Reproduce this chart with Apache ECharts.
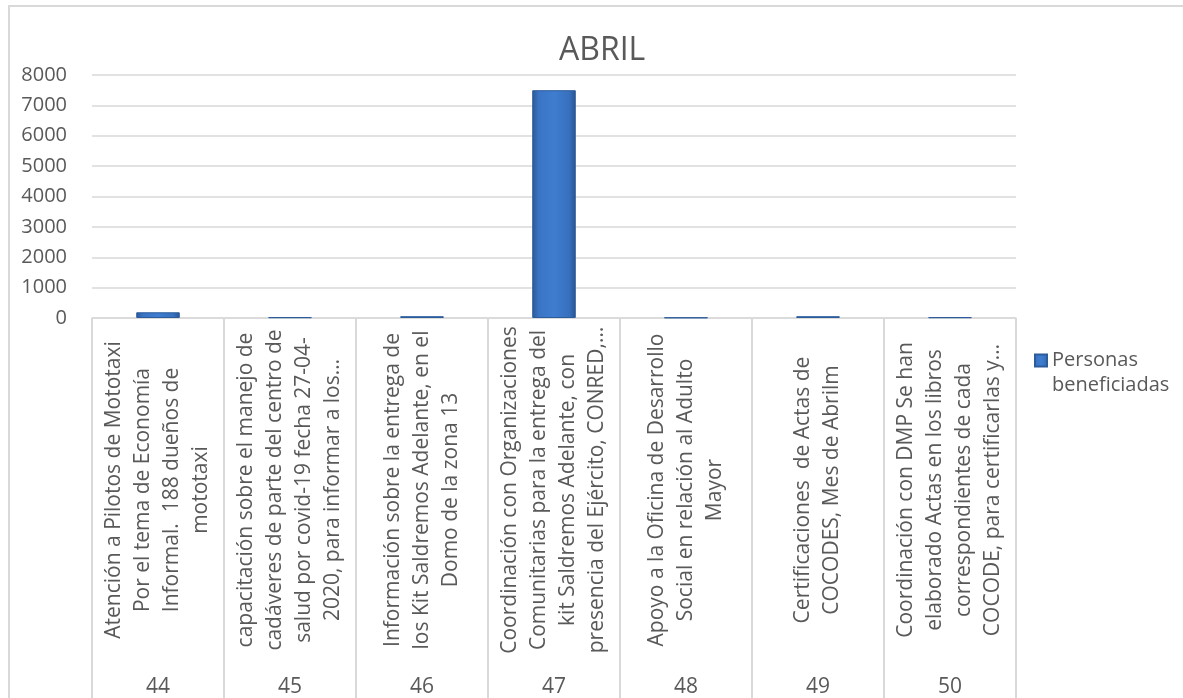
<!DOCTYPE html>
<html>
<head>
<meta charset="utf-8">
<script src="https://cdn.jsdelivr.net/npm/echarts@6/dist/echarts.min.js"></script>
<style>
html,body{margin:0;padding:0;background:#fff;}
#chart{width:1183px;height:698px;}
</style>
</head>
<body>
<div id="chart"></div>
<script>
var titleText = 'ABRIL';
var seriesName = 'Personas\nbeneficiadas';
var groupLabels = ['44', '45', '46', '47', '48', '49', '50'];
var categories = [
  'Atención a Pilotos de Mototaxi\nPor el tema de Economía\nInformal.  188 dueños de\nmototaxi',
  'capacitación sobre el manejo de\ncadáveres de parte del centro de\nsalud por covid-19 fecha 27-04-\n2020, para informar a los…',
  'Información sobre la entrega de\nlos Kit Saldremos Adelante, en el\nDomo de la zona 13',
  'Coordinación con Organizaciones\nComunitarias para la entrega del\nkit Saldremos Adelante, con\npresencia del Ejército, CONRED,…',
  'Apoyo a la Oficina de Desarrollo\nSocial en relación al Adulto\nMayor',
  'Certificaciones  de Actas de\nCOCODES, Mes de Abrilm',
  'Coordinación con DMP Se han\nelaborado Actas en los libros\ncorrespondientes de cada\nCOCODE, para certificarlas y…'
];
var values = [188, 25, 60, 7500, 15, 60, 25];
var yTicks = [0, 1000, 2000, 3000, 4000, 5000, 6000, 7000, 8000];

var FONT = '"Open Sans", sans-serif';
var TXT = '#595959';
var chart = echarts.init(document.getElementById('chart'));
chart.setOption({
  backgroundColor: '#ffffff',
  animation: false,
  title: {
    text: titleText,
    left: 554,
    top: 30,
    textStyle: {fontFamily: FONT, fontSize: 32, fontWeight: 'normal', color: TXT}
  },
  graphic: [{
    type: 'rect',
    shape: {x: 9, y: 6, width: 1200, height: 720},
    style: {fill: 'none', stroke: '#d9d9d9', lineWidth: 2},
    silent: true,
    z: -10
  }],
  legend: {
    data: [seriesName],
    left: 1029,
    top: 318,
    orient: 'vertical',
    itemWidth: 12,
    itemHeight: 12,
    itemGap: 8,
    icon: 'rect',
    formatter: function (n) { return '\n' + n; },
    textStyle: {fontFamily: FONT, fontSize: 20, color: TXT, lineHeight: 25}
  },
  grid: {left: 92, right: 167, top: 75, bottom: 379, containLabel: false},
  xAxis: [{
    type: 'category',
    data: categories,
    position: 'bottom',
    axisLine: {show: true, lineStyle: {color: '#d9d9d9', width: 1.5}},
    axisTick: {show: true, length: 390, alignWithLabel: false, lineStyle: {color: '#d9d9d9', width: 2}},
    axisLabel: {
      interval: 0, rotate: 90, align: 'center', verticalAlign: 'middle', margin: 172,
      fontFamily: FONT, fontSize: 21, lineHeight: 29, color: TXT
    }
  }, {
    type: 'category',
    data: groupLabels,
    position: 'bottom',
    axisLine: {show: false},
    axisTick: {show: false},
    axisLabel: {interval: 0, margin: 359, fontFamily: FONT, fontSize: 21, color: TXT}
  }],
  yAxis: {
    type: 'value',
    min: 0,
    max: 8000,
    interval: 1000,
    axisLine: {show: false},
    axisTick: {show: false},
    splitLine: {lineStyle: {color: '#d9d9d9', width: 1.5}},
    axisLabel: {
      margin: 25, fontFamily: FONT, fontSize: 20, color: TXT,
      formatter: function (v) { return yTicks.indexOf(v) >= 0 ? String(v) : ''; }
    }
  },
  series: [{
    name: seriesName,
    type: 'bar',
    xAxisIndex: 0,
    data: values,
    barWidth: '33%',
    itemStyle: {
      color: new echarts.graphic.LinearGradient(0, 0, 1, 0, [
        {offset: 0, color: '#2a5896'},
        {offset: 0.15, color: '#3a74c4'},
        {offset: 0.5, color: '#3f7dd0'},
        {offset: 0.85, color: '#3770be'},
        {offset: 1, color: '#28548f'}
      ]),
      borderColor: '#2c5c9c',
      borderWidth: 1
    }
  }]
});
</script>
</body>
</html>
